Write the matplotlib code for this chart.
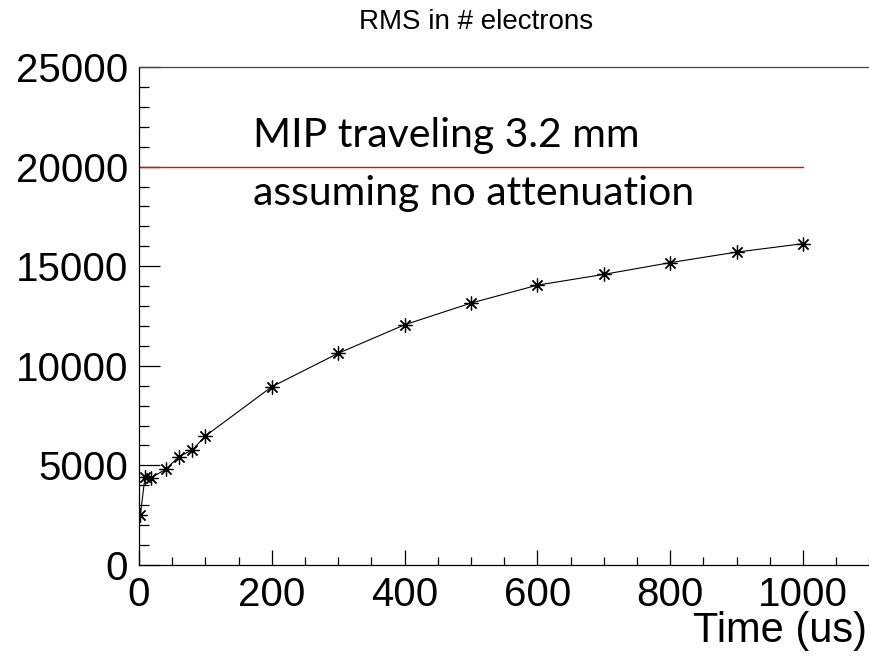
import matplotlib.pyplot as plt
from matplotlib.ticker import MultipleLocator

# readout time (us) and RMS noise in electrons
time_us = [2, 9, 18, 40, 60, 80, 100, 200, 300, 400, 500, 600, 700, 800, 900, 1000]
rms_e = [2510, 4430, 4380, 4800, 5440, 5770, 6480, 8950, 10630, 12060,
         13150, 14050, 14590, 15180, 15710, 16130]

mip_level = 20000
mip_span = [0, 1000]
mip_text = ["MIP traveling 3.2 mm", "assuming no attenuation"]

plt.rcParams['font.family'] = ['Liberation Sans', 'DejaVu Sans']

fig = plt.figure(figsize=(8.69, 6.57), dpi=100)
ax = fig.add_axes([0.16, 0.14, 0.8405, 0.758])

ax.plot(time_us, rms_e, color="black", lw=0.8, marker=(8, 2, 0), ms=10, mew=0.9)
ax.plot(mip_span, [mip_level, mip_level], color="red", lw=1.0)

ax.text(172, 20984, mip_text[0], family="Lato", fontsize=29.5, va="baseline")
ax.text(172, 18072, mip_text[1], family="Lato", fontsize=29.5, va="baseline")

ax.set_xlim(0, 1100)
ax.set_ylim(0, 25000)
ax.xaxis.set_major_locator(MultipleLocator(200))
ax.xaxis.set_minor_locator(MultipleLocator(50))
ax.yaxis.set_major_locator(MultipleLocator(5000))
ax.yaxis.set_minor_locator(MultipleLocator(1000))
ax.tick_params(axis="y", which="major", direction="in", length=15, width=0.9, labelsize=29, pad=8)
ax.tick_params(axis="y", which="minor", direction="in", length=7.2, width=0.9)
ax.tick_params(axis="x", which="major", direction="in", length=10.8, width=0.9, labelsize=29, pad=8)
ax.tick_params(axis="x", which="minor", direction="in", length=5.8, width=0.9)

ax.spines["right"].set_visible(False)
ax.spines["top"].set_color("#444444")
for s in ["left", "bottom", "top"]:
    ax.spines[s].set_linewidth(0.9)

fig.text(0.548, 0.966, "RMS in # electrons", fontsize=20, ha="center", va="center")
fig.text(0.998, 0.04, "Time (us)", fontsize=30, ha="right", va="center")

fig.savefig("out.png", dpi=100)
